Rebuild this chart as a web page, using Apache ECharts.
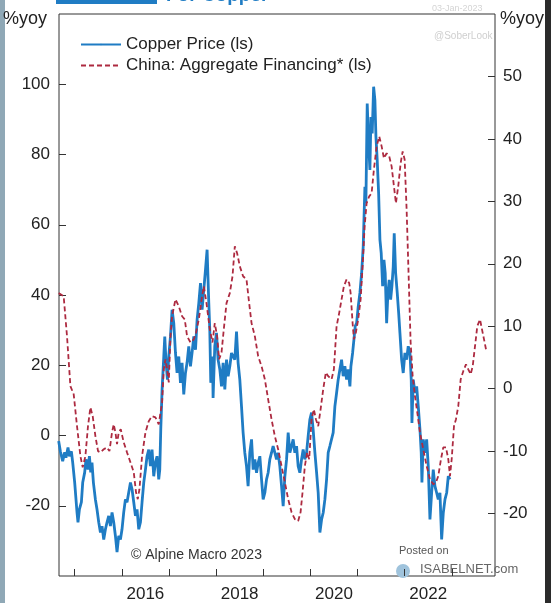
<!DOCTYPE html>
<html>
<head>
<meta charset="utf-8">
<script src="https://cdn.jsdelivr.net/npm/echarts@6/dist/echarts.min.js"></script>
<style>
html,body{margin:0;padding:0;background:#fff;}
#chart{width:551px;height:603px;}
</style>
</head>
<body>
<div id="chart"></div>
<script>
// ---- Data (decimal years, % yoy) ----
var copperYears = [2014.660,2014.696,2014.745,2014.788,2014.815,2014.858,2014.887,2014.930,2014.958,2015.000,2015.049,2015.070,2015.100,2015.142,2015.170,2015.212,2015.240,2015.282,2015.312,2015.340,2015.367,2015.397,2015.439,2015.473,2015.510,2015.546,2015.580,2015.616,2015.652,2015.686,2015.722,2015.758,2015.792,2015.828,2015.864,2015.898,2015.934,2015.970,2016.004,2016.040,2016.076,2016.110,2016.146,2016.183,2016.217,2016.253,2016.289,2016.323,2016.359,2016.395,2016.429,2016.465,2016.501,2016.535,2016.571,2016.607,2016.641,2016.677,2016.713,2016.747,2016.783,2016.805,2016.826,2016.854,2016.890,2016.911,2016.938,2016.968,2016.996,2017.032,2017.066,2017.102,2017.138,2017.172,2017.208,2017.244,2017.278,2017.314,2017.350,2017.384,2017.420,2017.456,2017.490,2017.527,2017.563,2017.597,2017.633,2017.669,2017.703,2017.739,2017.775,2017.809,2017.845,2017.866,2017.887,2017.924,2017.936,2017.972,2018.008,2018.042,2018.079,2018.115,2018.149,2018.185,2018.221,2018.255,2018.291,2018.327,2018.361,2018.397,2018.433,2018.467,2018.503,2018.539,2018.573,2018.609,2018.645,2018.679,2018.715,2018.752,2018.786,2018.822,2018.858,2018.892,2018.928,2018.964,2018.998,2019.034,2019.070,2019.104,2019.140,2019.176,2019.210,2019.246,2019.282,2019.316,2019.352,2019.389,2019.423,2019.459,2019.495,2019.529,2019.565,2019.601,2019.635,2019.671,2019.707,2019.741,2019.777,2019.813,2019.847,2019.883,2019.919,2019.953,2019.989,2020.025,2020.059,2020.096,2020.132,2020.166,2020.202,2020.238,2020.272,2020.308,2020.344,2020.378,2020.414,2020.484,2020.520,2020.556,2020.590,2020.626,2020.662,2020.696,2020.732,2020.769,2020.803,2020.839,2020.860,2020.896,2020.924,2020.951,2020.981,2021.015,2021.051,2021.087,2021.121,2021.157,2021.178,2021.206,2021.236,2021.263,2021.285,2021.312,2021.342,2021.369,2021.391,2021.418,2021.448,2021.476,2021.503,2021.533,2021.561,2021.588,2021.618,2021.645,2021.673,2021.703,2021.730,2021.758,2021.779,2021.809,2021.843,2021.873,2021.900,2021.936,2021.970,2022.006,2022.042,2022.076,2022.113,2022.140,2022.155,2022.183,2022.219,2022.255,2022.289,2022.325,2022.352,2022.367,2022.395,2022.431,2022.467,2022.501,2022.537,2022.573,2022.607,2022.643,2022.679,2022.713,2022.749,2022.785,2022.820,2022.856,2022.892,2022.926,2022.962];
var copperValues = [-1.6,-4.5,-7.3,-4.8,-6.3,-3.4,-5.9,-4.5,-7.7,-13.4,-21.9,-24.7,-21.0,-19.0,-13.4,-10.5,-6.8,-9.7,-5.9,-10.5,-7.7,-13.4,-18.2,-21.0,-24.7,-27.6,-25.8,-29.6,-26.7,-24.7,-22.9,-25.8,-21.9,-24.7,-28.6,-33.2,-28.6,-29.6,-26.7,-21.9,-18.2,-19.0,-16.2,-13.4,-15.3,-19.0,-22.9,-21.0,-26.7,-24.7,-19.0,-13.4,-9.7,-5.9,-4.0,-8.7,-4.0,-11.6,-7.7,-5.9,-12.5,-9.7,1.7,13.1,22.5,28.2,20.7,15.9,22.5,28.2,35.8,32.0,23.5,17.8,22.5,15.0,20.7,11.7,17.8,20.7,25.4,19.7,23.5,28.2,24.4,33.0,37.7,43.4,35.8,41.5,47.2,52.9,37.7,30.1,15.0,22.5,10.7,25.4,29.2,21.6,18.8,14.0,20.7,13.1,21.6,16.9,19.7,23.5,22.5,21.6,29.6,20.7,15.9,8.3,0.8,-4.9,-8.7,-14.4,-4.9,-1.1,-9.7,-6.8,-10.6,-7.8,-5.9,-12.5,-18.2,-16.3,-12.5,-10.6,-6.8,-4.9,-3.0,-4.9,-6.8,-4.9,-8.7,-14.4,-20.1,-11.6,-6.8,0.8,-4.9,-3.0,-1.1,-4.9,-3.0,-8.7,-10.6,-6.8,-4.0,-6.8,-4.9,-0.2,4.5,6.5,1.7,-4.9,-10.6,-16.3,-27.6,-23.9,-22.0,-18.2,-12.5,-4.9,-3.0,0.8,8.3,12.1,15.9,18.8,21.6,16.9,19.7,15.9,18.8,14.0,19.7,23.5,27.3,31.1,32.0,36.7,40.6,46.2,53.8,70.8,66.1,94.5,83.2,75.6,90.7,86.0,99.3,95.5,85.1,78.4,69.0,55.7,51.9,42.5,50.0,46.2,32.0,40.6,44.3,38.7,42.5,48.1,57.6,46.2,40.6,34.9,29.2,21.6,17.8,23.5,21.6,25.4,23.5,15.9,3.6,15.9,12.1,14.0,8.3,1.7,-4.9,-13.4,-1.1,-4.9,-1.1,-8.7,-23.9,-16.3,-9.7,-14.4,-16.3,-18.2,-16.3,-29.6,-22.0,-18.2,-16.3,-11.6,-12.5];

var financingYears = [2014.660,2014.766,2014.837,2014.909,2014.979,2015.049,2015.121,2015.170,2015.227,2015.282,2015.333,2015.382,2015.439,2015.495,2015.546,2015.616,2015.686,2015.737,2015.792,2015.828,2015.864,2015.898,2015.934,2015.977,2016.040,2016.110,2016.183,2016.253,2016.301,2016.338,2016.374,2016.429,2016.501,2016.571,2016.641,2016.713,2016.783,2016.820,2016.854,2016.890,2016.926,2016.960,2016.996,2017.032,2017.066,2017.138,2017.208,2017.278,2017.335,2017.384,2017.456,2017.527,2017.575,2017.633,2017.703,2017.739,2017.796,2017.866,2017.924,2017.972,2018.021,2018.064,2018.115,2018.163,2018.221,2018.291,2018.348,2018.397,2018.446,2018.503,2018.573,2018.645,2018.701,2018.752,2018.822,2018.892,2018.964,2019.034,2019.104,2019.176,2019.246,2019.316,2019.389,2019.459,2019.529,2019.601,2019.671,2019.741,2019.792,2019.834,2019.883,2019.932,2019.975,2020.025,2020.074,2020.117,2020.166,2020.217,2020.272,2020.329,2020.378,2020.450,2020.499,2020.556,2020.611,2020.662,2020.711,2020.769,2020.824,2020.854,2020.896,2020.924,2020.966,2021.015,2021.066,2021.108,2021.151,2021.193,2021.248,2021.299,2021.348,2021.406,2021.461,2021.512,2021.561,2021.618,2021.673,2021.724,2021.773,2021.815,2021.864,2021.915,2021.958,2022.000,2022.042,2022.085,2022.127,2022.170,2022.219,2022.268,2022.325,2022.395,2022.467,2022.537,2022.607,2022.665,2022.713,2022.771,2022.820,2022.877,2022.926,2022.962,2022.998,2023.047,2023.089,2023.138,2023.189,2023.244,2023.301,2023.350,2023.401,2023.444,2023.493,2023.541,2023.599,2023.641,2023.684,2023.726];
var financingValues = [15.3,14.8,8.4,0.4,-0.9,-6.0,-10.8,-12.6,-10.8,-6.0,-3.0,-4.4,-7.6,-10.0,-10.2,-9.7,-9.4,-10.0,-7.0,-5.7,-7.0,-8.9,-7.0,-6.5,-8.6,-10.2,-11.8,-13.4,-16.6,-17.7,-16.1,-10.8,-7.0,-5.2,-4.4,-4.6,-5.7,-6.0,-2.2,3.1,4.7,3.1,1.0,8.4,11.6,14.3,13.2,11.6,11.1,8.4,7.4,7.9,9.0,11.1,14.8,16.4,13.7,9.5,7.4,10.5,8.4,4.7,5.8,9.5,13.7,15.3,18.0,22.8,21.7,19.6,18.0,17.5,13.7,10.5,8.4,5.2,3.6,1.5,-1.7,-4.9,-7.6,-9.7,-12.4,-15.0,-17.7,-19.8,-20.9,-21.2,-19.8,-16.6,-12.4,-10.2,-11.3,-4.9,-3.3,-4.9,-6.0,-3.3,-0.1,2.6,2.0,1.5,3.1,10.0,12.1,14.3,16.4,17.5,16.9,15.3,10.5,7.9,9.0,11.1,14.3,19.6,26.0,29.7,30.8,31.3,35.1,38.8,40.4,38.8,36.9,37.7,37.2,35.6,32.4,29.7,32.4,36.1,38.0,36.7,28.7,18.0,7.4,2.0,-1.2,-3.8,-7.0,-9.7,-12.4,-14.5,-15.3,-15.0,-14.0,-11.3,-9.4,-9.4,-11.3,-14.0,-11.3,-6.0,-4.9,-2.8,1.5,2.8,3.9,3.1,2.3,3.6,6.8,10.0,11.1,9.5,7.9,6.3];

var xTickYears = [2015,2016,2017,2018,2019,2020,2021,2022,2023];
var xLabelYears = [2016,2018,2020,2022];
var leftTicks = [-20,0,20,40,60,80,100];
var rightTicks = [-20,-10,0,10,20,30,40,50];
var seriesNames = ['Copper Price (ls)', 'China: Aggregate Financing* (ls)'];

function zip(a, b) { return a.map(function (v, i) { return [v, b[i]]; }); }

var FONT = '"Liberation Sans", Arial, sans-serif';
var chart = echarts.init(document.getElementById('chart'), null, {renderer: 'canvas'});
chart.setOption({
  animation: false,
  backgroundColor: '#ffffff',
  textStyle: {fontFamily: FONT},
  grid: {left: 59, right: 56, top: 14, bottom: 26, show: true, borderColor: '#333', borderWidth: 1, backgroundColor: 'transparent'},
  legend: {
    orient: 'vertical', left: 75, top: 31, itemWidth: 40, itemHeight: 2, itemGap: 4,
    textStyle: {fontSize: 17, color: '#222', fontFamily: FONT},
    data: seriesNames
  },
  xAxis: {
    type: 'value', min: 2014.667, max: 2023.917,
    axisLine: {show: false, onZero: false},
    splitLine: {show: false},
    axisTick: {show: true, inside: true, length: 7, lineStyle: {color: '#333'}, customValues: xTickYears},
    axisLabel: {
      customValues: xLabelYears.map(function (y) { return y + 0.5; }),
      formatter: function (v) { return String(Math.floor(v)); },
      fontSize: 17, color: '#222', margin: 10
    }
  },
  yAxis: [
    {
      type: 'value', position: 'left', min: -40, max: 120,
      axisLine: {show: false, onZero: false}, splitLine: {show: false},
      axisTick: {show: true, inside: true, length: 7, lineStyle: {color: '#333'}, customValues: leftTicks},
      axisLabel: {customValues: leftTicks, fontSize: 17, color: '#222', margin: 9}
    },
    {
      type: 'value', position: 'right', min: -30, max: 60,
      axisLine: {show: false, onZero: false}, splitLine: {show: false},
      axisTick: {show: true, inside: true, length: 7, lineStyle: {color: '#333'}, customValues: rightTicks},
      axisLabel: {customValues: rightTicks, fontSize: 17, color: '#222', margin: 8}
    }
  ],
  series: [
    {
      name: seriesNames[0], type: 'line', yAxisIndex: 0, showSymbol: false, symbol: 'none',
      lineStyle: {color: '#1f7cc4', width: 2.8}, itemStyle: {color: '#1f7cc4'},
      data: zip(copperYears, copperValues), z: 2
    },
    {
      name: seriesNames[1], type: 'line', yAxisIndex: 1, showSymbol: false, symbol: 'none',
      lineStyle: {color: '#ad2a40', width: 1.8, type: [5, 3]}, itemStyle: {color: '#ad2a40'},
      data: zip(financingYears, financingValues), z: 3
    }
  ],
  graphic: [
    {type: 'rect', left: 0, top: 0, shape: {width: 5, height: 603}, style: {fill: '#8fa8b6'}, silent: true},
    {type: 'rect', left: 545, top: 0, shape: {width: 6, height: 603}, style: {fill: '#2b2b2b'}, silent: true},
    {type: 'rect', left: 56, top: 0, shape: {width: 101, height: 4}, style: {fill: '#1f7cc4'}, silent: true},
    {type: 'text', left: 166, top: -14, style: {text: 'For Copper', fill: '#1f7cc4', font: 'bold 19px ' + FONT}, silent: true},
    {type: 'text', left: 3, top: 10, style: {text: '%yoy', fill: '#222', font: '18px ' + FONT}, silent: true},
    {type: 'text', left: 500, top: 10, style: {text: '%yoy', fill: '#222', font: '18px ' + FONT}, silent: true},
    {type: 'text', left: 432, top: 4, style: {text: '03-Jan-2023', fill: '#d4d4d4', font: '9px ' + FONT}, silent: true},
    {type: 'text', left: 434, top: 31, style: {text: '@SoberLook', fill: '#cfcfcf', font: '10px ' + FONT}, silent: true},
    {type: 'text', left: 131, top: 548, style: {text: '\u00A9 Alpine Macro 2023', fill: '#333', font: '14px ' + FONT}, silent: true},
    {type: 'text', left: 399, top: 545, style: {text: 'Posted on', fill: '#555', font: '11px ' + FONT}, silent: true},
    {type: 'circle', shape: {cx: 403, cy: 571, r: 7}, style: {fill: '#9fc3dc'}, silent: true},
    {type: 'text', left: 420, top: 563, style: {text: 'ISABELNET.com', fill: '#666', font: '13px ' + FONT}, silent: true}
  ]
});
</script>
</body>
</html>
